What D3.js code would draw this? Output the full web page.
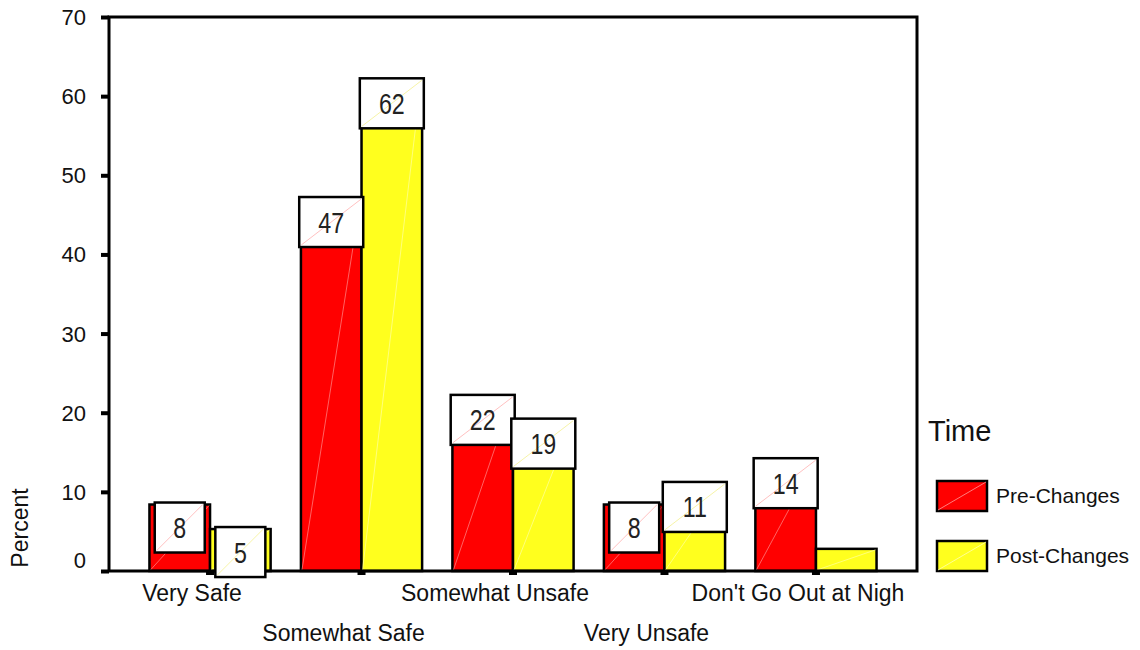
<!DOCTYPE html>
<html>
<head>
<meta charset="utf-8">
<script src="https://cdn.jsdelivr.net/npm/d3@7"></script>
<style>
  html, body { margin: 0; padding: 0; background: #fff; }
  svg { display: block; font-family: Arial, "Liberation Sans", sans-serif; }
</style>
</head>
<body>
<svg id="chart" width="1140" height="650"></svg>
<script>
// ---- data ----
const categories = ["Very Safe", "Somewhat Safe", "Somewhat Unsafe", "Very Unsafe", "Don't Go Out at Nigh"];
const seriesNames = ["Pre-Changes", "Post-Changes"];
const preValues  = [8.4, 47, 22, 8.4, 14];
const postValues = [5.3, 62, 19, 11, 2.8];
const preLabels  = [8, 47, 22, 8, 14];
const postLabels = [5, 62, 19, 11, null];
const yTicks = [0, 10, 20, 30, 40, 50, 60, 70];
const legendTitle = "Time";
const yTitle = "Percent";

// ---- layout ----
const svg = d3.select("#chart");
const L = 109, R = 917, T = 17, B = 571;
const colors = ["#ff0000", "#ffff1e"];
const diagColors = ["#ff9a9a", "#ffffb0"];

const y = d3.scaleLinear().domain([0, 70]).range([B, T]);
const x = d3.scalePoint().domain(categories).range([L, R]).padding(0.667);
const barW = x.step() * 0.4;

const series = [preValues, postValues];
const labels = [preLabels, postLabels];

// bars
const gBars = svg.append("g");
series.forEach((vals, si) => {
  categories.forEach((c, i) => {
    const x0 = si === 0 ? x(c) - barW : x(c);
    const y0 = y(vals[i]);
    gBars.append("rect")
      .attr("x", x0).attr("y", y0)
      .attr("width", barW).attr("height", B - y0)
      .attr("fill", colors[si]).attr("stroke", "#000").attr("stroke-width", 2.5);
    gBars.append("line")
      .attr("x1", x0 + 1).attr("y1", B - 1)
      .attr("x2", x0 + barW - 1).attr("y2", y0 + 1)
      .attr("stroke", diagColors[si]).attr("stroke-width", 0.8).attr("opacity", 0.8);
  });
});

// axis frame
svg.append("path")
  .attr("d", `M${L},${T}H${R}V${B}H${L}Z`)
  .attr("fill", "none").attr("stroke", "#000").attr("stroke-width", 3);

// y axis ticks & labels
const yAxis = d3.axisLeft(y).tickValues(yTicks).tickSize(0).tickPadding(23);
const gy = svg.append("g").attr("transform", `translate(${L},0)`).call(yAxis);
gy.select(".domain").remove();
gy.selectAll("text")
  .attr("font-size", 22).attr("font-family", "Arial, 'Liberation Sans', sans-serif").attr("fill", "#111")
  .attr("dy", d => d === 0 ? "-0.18em" : "0.34em");
gy.selectAll(".tick").append("rect")
  .attr("x", -8).attr("y", -2).attr("width", 8).attr("height", 4).attr("fill", "#000");

// x axis ticks
svg.append("g").selectAll("rect").data(categories).join("rect")
  .attr("x", d => x(d) - 4).attr("y", B).attr("width", 8).attr("height", 4).attr("fill", "#000");

// x labels (staggered)
svg.append("g").selectAll("text").data(categories).join("text")
  .attr("x", d => x(d) - 18)
  .attr("y", (d, i) => i % 2 === 0 ? 601 : 641)
  .attr("text-anchor", "middle")
  .attr("font-size", 23).attr("fill", "#111")
  .text(d => d);

// y title
svg.append("text")
  .attr("transform", "translate(28,528) rotate(-90)")
  .attr("text-anchor", "middle")
  .attr("font-size", 23).attr("fill", "#111")
  .text(yTitle);

// value label boxes
const gLab = svg.append("g");
series.forEach((vals, si) => {
  categories.forEach((c, i) => {
    const lab = labels[si][i];
    if (lab === null) return;
    const cx = si === 0 ? x(c) - barW / 2 : x(c) + barW / 2;
    const w = String(lab).length > 1 ? 64 : 50;
    const h = 50;
    const top = y(vals[i]) - 2;
    gLab.append("rect")
      .attr("x", cx - w / 2).attr("y", top).attr("width", w).attr("height", h)
      .attr("fill", "#fff").attr("stroke", "#000").attr("stroke-width", 2.5);
    gLab.append("line")
      .attr("x1", cx - w / 2 + 2).attr("y1", top + h - 2)
      .attr("x2", cx + w / 2 - 2).attr("y2", top + 2)
      .attr("stroke", si === 1 ? "#f4f090" : "#ffb0b0").attr("stroke-width", 0.8);
    gLab.append("text")
      .attr("transform", `translate(${cx},${top + h / 2 + 10.5}) scale(0.8,1)`)
      .attr("text-anchor", "middle")
      .attr("font-size", 29).attr("fill", "#222")
      .text(lab);
  });
});

// legend
const gLeg = svg.append("g");
gLeg.append("text").attr("x", 928).attr("y", 441).attr("font-size", 29).attr("fill", "#111").text(legendTitle);
seriesNames.forEach((s, i) => {
  const yy = 481 + i * 60;
  gLeg.append("rect").attr("x", 937).attr("y", yy).attr("width", 50).attr("height", 30)
    .attr("fill", colors[i]).attr("stroke", "#000").attr("stroke-width", 2.5);
  gLeg.append("line").attr("x1", 938).attr("y1", yy + 29).attr("x2", 986).attr("y2", yy + 1)
    .attr("stroke", diagColors[i]).attr("stroke-width", 0.8);
  gLeg.append("text").attr("x", 996).attr("y", yy + 22).attr("font-size", 21).attr("fill", "#111").text(s);
});
</script>
</body>
</html>
